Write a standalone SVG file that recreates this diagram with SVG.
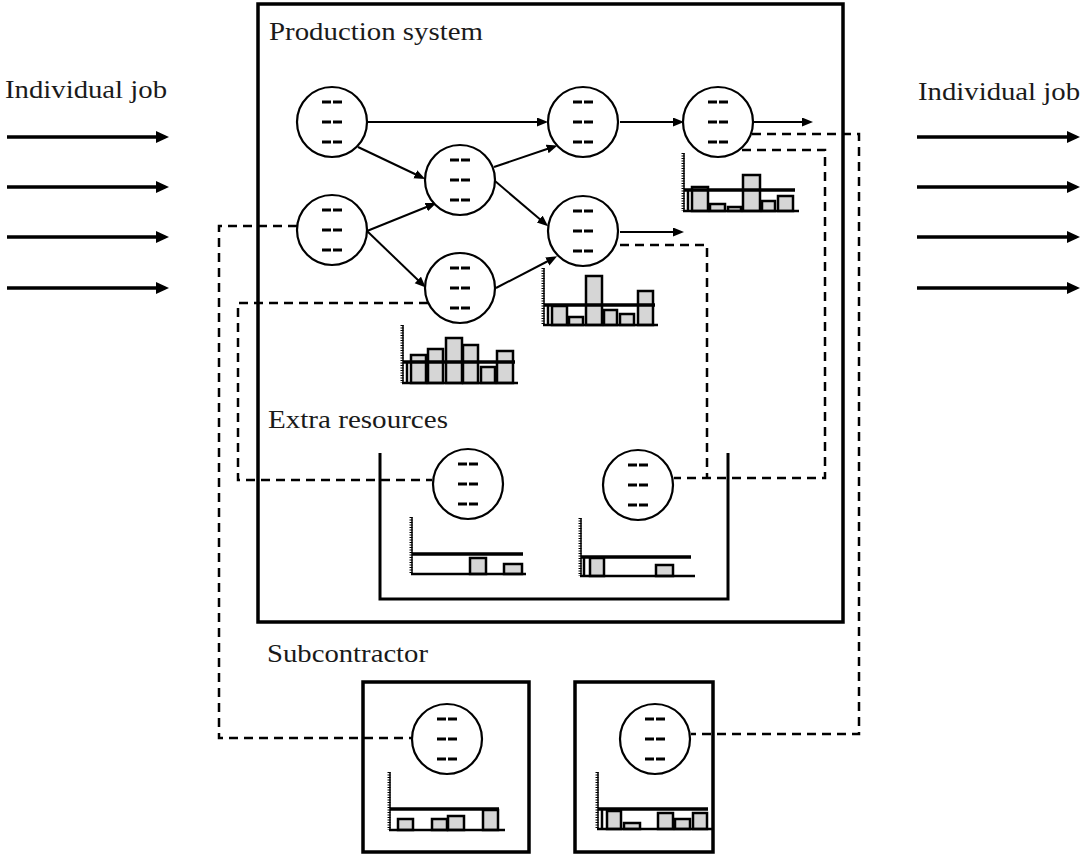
<svg xmlns="http://www.w3.org/2000/svg" xmlns:xlink="http://www.w3.org/1999/xlink" width="1081" height="857" viewBox="0 0 1081 857">
<style>
.lbl{font-family:"Liberation Serif","Times New Roman",serif;font-size:26px;fill:#1a1a1a}
.frame{fill:none;stroke:#000;stroke-width:3.5}
.circ{fill:#fff;stroke:#000;stroke-width:2.2}
.dsh{stroke:#000;stroke-width:3}
.axis{stroke:#000;stroke-width:1.5}
.ticks{stroke:#000;stroke-width:3;stroke-dasharray:1 1.5}
.base{stroke:#000;stroke-width:2.5}
.thr{stroke:#000;stroke-width:3.5}
.bar{fill:#d6d6d6;stroke:#000;stroke-width:2.5}
.job{stroke:#000;stroke-width:3.5;fill:none}
.flow{stroke:#000;stroke-width:2;fill:none}
.dash{stroke:#000;stroke-width:2.5;fill:none;stroke-dasharray:9 6}
</style>
<defs>
<marker id="bigHead" markerUnits="userSpaceOnUse" markerWidth="14" markerHeight="14" refX="4" refY="6" orient="auto">
<path d="M0,0 L13,6 L0,12 z" fill="#000"/>
</marker>
<marker id="smallHead" markerUnits="userSpaceOnUse" markerWidth="12" markerHeight="10" refX="3" refY="4.5" orient="auto">
<path d="M0,0 L11,4.5 L0,9 z" fill="#000"/>
</marker>
<g id="nodeShape">
<circle class="circ" cx="0" cy="0" r="35"/>
<path class="dsh" d="M-10,-20 h9 M1,-20 h9 M-10,0 h9 M1,0 h9 M-10,20 h9 M1,20 h9"/>
</g>
</defs>
<rect width="1081" height="857" fill="#fff"/>

<g id="production-system">
<rect class="frame" x="258" y="4" width="585" height="618"/>
<text class="lbl" x="269" y="40" textLength="214" lengthAdjust="spacingAndGlyphs">Production system</text>
</g>

<g id="extra-resources">
<path class="frame" style="stroke-width:3" d="M380,453 V599 H728 V453"/>
<text class="lbl" x="268" y="428" textLength="180" lengthAdjust="spacingAndGlyphs">Extra resources</text>
</g>

<g id="subcontractor">
<text class="lbl" x="267" y="662" textLength="161" lengthAdjust="spacingAndGlyphs">Subcontractor</text>
<rect class="frame" x="363" y="682" width="166" height="170"/>
<rect class="frame" x="575" y="682" width="138" height="170"/>
</g>

<g id="labels">
<text class="lbl" x="5" y="98" textLength="162" lengthAdjust="spacingAndGlyphs">Individual job</text>
<text class="lbl" x="918" y="100" textLength="162" lengthAdjust="spacingAndGlyphs">Individual job</text>
</g>

<g id="connectors">
<path class="job" marker-end="url(#bigHead)" d="M7,137 H160"/>
<path class="job" marker-end="url(#bigHead)" d="M7,187 H160"/>
<path class="job" marker-end="url(#bigHead)" d="M7,237 H160"/>
<path class="job" marker-end="url(#bigHead)" d="M7,288 H160"/>
<path class="job" marker-end="url(#bigHead)" d="M917,137 H1071"/>
<path class="job" marker-end="url(#bigHead)" d="M917,187 H1071"/>
<path class="job" marker-end="url(#bigHead)" d="M917,237 H1071"/>
<path class="job" marker-end="url(#bigHead)" d="M917,288 H1071"/>

<path class="flow" marker-end="url(#smallHead)" d="M367,122 L540,122"/>
<path class="flow" marker-end="url(#smallHead)" d="M358,147 L418,175.5"/>
<path class="flow" marker-end="url(#smallHead)" d="M367,231 L429,206"/>
<path class="flow" marker-end="url(#smallHead)" d="M367,231 L420,282"/>
<path class="flow" marker-end="url(#smallHead)" d="M494,167 L550,148"/>
<path class="flow" marker-end="url(#smallHead)" d="M495,181 L542,221"/>
<path class="flow" marker-end="url(#smallHead)" d="M496,288 L550,260"/>
<path class="flow" marker-end="url(#smallHead)" d="M620,122 L676,122"/>
<path class="flow" marker-end="url(#smallHead)" d="M753,122 L805,122"/>
<path class="flow" marker-end="url(#smallHead)" d="M620,232 L676,232"/>

<path class="dash" d="M297,226 H219 V738 H411"/>
<path class="dash" d="M428,303 H238 V480 H432"/>
<path class="dash" d="M620,245 H707 V478"/>
<path class="dash" d="M742,150 H825 V478 H674"/>
<path class="dash" d="M752,134 H859 V734 H691"/>
</g>

<g id="n1"><use href="#nodeShape" x="332" y="122"/></g>
<g id="n2"><use href="#nodeShape" x="332" y="230"/></g>
<g id="n3"><use href="#nodeShape" x="460" y="180"/></g>
<g id="n4"><use href="#nodeShape" x="460" y="288"/>
<line class="axis" x1="403" y1="325" x2="403" y2="383"/>
<line class="ticks" x1="402" y1="325" x2="402" y2="383"/>
<rect class="bar" x="411" y="355" width="15" height="28"/>
<rect class="bar" x="428" y="349" width="15" height="34"/>
<rect class="bar" x="446" y="338" width="16" height="45"/>
<rect class="bar" x="463" y="345" width="15" height="38"/>
<rect class="bar" x="481" y="367" width="14" height="16"/>
<rect class="bar" x="497" y="351" width="16" height="32"/>
<line class="base" x1="407" y1="362" x2="407" y2="383"/>
<line class="thr" x1="403" y1="362" x2="515" y2="362"/>
<line class="base" x1="402" y1="383" x2="518" y2="383"/>
</g>
<g id="n5"><use href="#nodeShape" x="583" y="122"/></g>
<g id="n6"><use href="#nodeShape" x="718" y="122"/>
<line class="axis" x1="684" y1="153" x2="684" y2="211"/>
<line class="ticks" x1="683" y1="153" x2="683" y2="211"/>
<rect class="bar" x="692" y="187" width="16" height="24"/>
<rect class="bar" x="710" y="204" width="15" height="7"/>
<rect class="bar" x="728" y="207" width="13" height="4"/>
<rect class="bar" x="743" y="175" width="17" height="36"/>
<rect class="bar" x="762" y="201" width="13" height="10"/>
<rect class="bar" x="778" y="196" width="15" height="15"/>
<line class="base" x1="688" y1="190" x2="688" y2="211"/>
<line class="thr" x1="684" y1="190" x2="795" y2="190"/>
<line class="base" x1="683" y1="211" x2="799" y2="211"/>
</g>
<g id="n7"><use href="#nodeShape" x="583" y="231"/>
<line class="axis" x1="544" y1="268" x2="544" y2="325"/>
<line class="ticks" x1="543" y1="268" x2="543" y2="325"/>
<rect class="bar" x="552" y="306" width="15" height="19"/>
<rect class="bar" x="569" y="317" width="14" height="8"/>
<rect class="bar" x="586" y="276" width="16" height="49"/>
<rect class="bar" x="604" y="310" width="13" height="15"/>
<rect class="bar" x="620" y="314" width="14" height="11"/>
<rect class="bar" x="638" y="291" width="15" height="34"/>
<line class="base" x1="548" y1="305" x2="548" y2="325"/>
<line class="thr" x1="544" y1="305" x2="655" y2="305"/>
<line class="base" x1="543" y1="325" x2="658" y2="325"/>
</g>

<g id="e1"><use href="#nodeShape" x="468" y="484"/>
<line class="axis" x1="412" y1="517" x2="412" y2="574"/>
<line class="ticks" x1="411" y1="517" x2="411" y2="574"/>
<rect class="bar" x="470" y="558" width="16" height="16"/>
<rect class="bar" x="504" y="564" width="18" height="10"/>
<line class="thr" x1="412" y1="554" x2="523" y2="554"/>
<line class="base" x1="411" y1="574" x2="526" y2="574"/>
</g>
<g id="e2"><use href="#nodeShape" x="638" y="485"/>
<line class="axis" x1="581" y1="518" x2="581" y2="576"/>
<line class="ticks" x1="580" y1="518" x2="580" y2="576"/>
<rect class="bar" x="590" y="558" width="14" height="18"/>
<rect class="bar" x="656" y="565" width="17" height="11"/>
<line class="base" x1="584" y1="557" x2="584" y2="576"/>
<line class="thr" x1="581" y1="557" x2="691" y2="557"/>
<line class="base" x1="580" y1="576" x2="695" y2="576"/>
</g>

<g id="s1"><use href="#nodeShape" x="447" y="739"/>
<line class="axis" x1="390" y1="772" x2="390" y2="830"/>
<line class="ticks" x1="389" y1="772" x2="389" y2="830"/>
<rect class="bar" x="398" y="819" width="15" height="11"/>
<rect class="bar" x="432" y="819" width="15" height="11"/>
<rect class="bar" x="448" y="816" width="16" height="14"/>
<rect class="bar" x="483" y="810" width="15" height="20"/>
<line class="thr" x1="390" y1="809" x2="499" y2="809"/>
<line class="base" x1="389" y1="830" x2="505" y2="830"/>
</g>
<g id="s2"><use href="#nodeShape" x="655" y="739"/>
<line class="axis" x1="598" y1="772" x2="598" y2="829"/>
<line class="ticks" x1="597" y1="772" x2="597" y2="829"/>
<rect class="bar" x="607" y="811" width="14" height="18"/>
<rect class="bar" x="624" y="823" width="16" height="6"/>
<rect class="bar" x="658" y="813" width="15" height="16"/>
<rect class="bar" x="675" y="819" width="15" height="10"/>
<rect class="bar" x="693" y="813" width="14" height="16"/>
<line class="base" x1="602" y1="809" x2="602" y2="829"/>
<line class="thr" x1="598" y1="809" x2="708" y2="809"/>
<line class="base" x1="597" y1="829" x2="712" y2="829"/>
</g>
</svg>
